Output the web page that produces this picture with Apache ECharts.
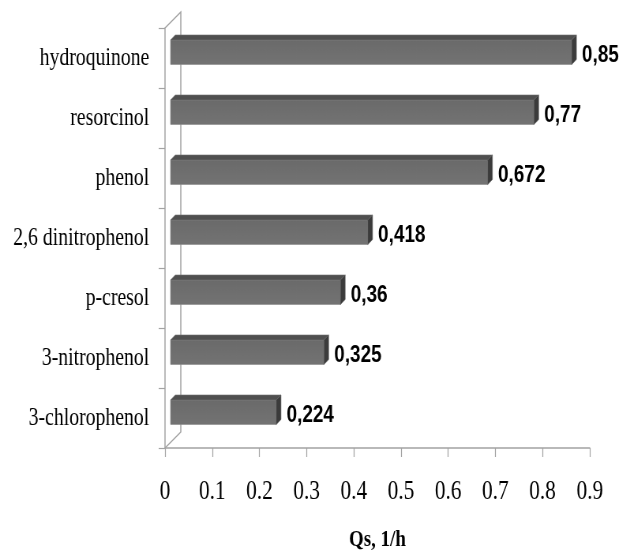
<!DOCTYPE html>
<html>
<head>
<meta charset="utf-8">
<script src="https://cdn.jsdelivr.net/npm/echarts@6/dist/echarts.min.js"></script>
<style>
  html, body { margin: 0; padding: 0; background: #fff; overflow: hidden; }
  /* the original picture is squeezed sideways, so draw wider and squeeze */
  #chart {
    width: 784px;
    height: 558px;
    transform: scaleX(0.7895);
    transform-origin: 0 0;
  }
</style>
</head>
<body>
<div id="chart"></div>
<script>
  const compounds = [
    "hydroquinone",
    "resorcinol",
    "phenol",
    "2,6 dinitrophenol",
    "p-cresol",
    "3-nitrophenol",
    "3-chlorophenol",
  ];
  const qsValues = [0.85, 0.77, 0.672, 0.418, 0.36, 0.325, 0.224];
  const xTicks = [0, 0.1, 0.2, 0.3, 0.4, 0.5, 0.6, 0.7, 0.8, 0.9];

  const gridLeft = 209;
  const gridTop = 28;
  const gridBottom = 110;
  const wallDx = 20; // depth of the 3d wall
  const wallDy = 16;
  const axisGray = "#a3a3a3";

  const chart = echarts.init(document.getElementById("chart"));
  const plotBottom = 558 - gridBottom;

  // one 3d-looking bar: front face, top face, right side and its label
  function renderBar(params, api) {
    const v = api.value(0);
    const p = api.coord([v, api.value(1)]);
    const p0 = api.coord([0, api.value(1)]);
    const band = api.size([0, 1])[1];
    const off = 7;
    const d = 6;
    const dy = 5;
    const x0 = p0[0] + off;
    const x1 = p[0] + off;
    const yTop = p[1] - band * 0.3;
    const yBot = p[1] + band * 0.108;
    return {
      type: "group",
      children: [
        {
          type: "rect",
          shape: { x: x0, y: yTop, width: x1 - x0, height: yBot - yTop },
          style: {
            fill: new echarts.graphic.LinearGradient(0, 0, 0, 1, [
              { offset: 0, color: "#6a6a6a" },
              { offset: 1, color: "#737373" },
            ]),
            stroke: "#8a8a8a",
            lineWidth: 0.6,
          },
        },
        {
          type: "polygon",
          shape: {
            points: [
              [x0, yTop],
              [x0 + d, yTop - dy],
              [x1 + d, yTop - dy],
              [x1, yTop],
            ],
          },
          style: { fill: "#4f4f4f", stroke: "#6e6e6e", lineWidth: 0.6 },
        },
        {
          type: "polygon",
          shape: {
            points: [
              [x1, yTop],
              [x1 + d, yTop - dy],
              [x1 + d, yBot - dy],
              [x1, yBot],
            ],
          },
          style: { fill: "#3b3b3b", stroke: "#5a5a5a", lineWidth: 0.6 },
        },
        {
          type: "text",
          x: x1 + d + 7,
          y: p[1] - 3,
          style: {
            text: String(v).replace(".", ","),
            font: "bold 24px 'Liberation Sans', Arial, sans-serif",
            fill: "#000",
            align: "left",
            verticalAlign: "middle",
          },
        },
      ],
    };
  }

  const option = {
    backgroundColor: "#fff",
    animation: false,
    grid: {
      left: gridLeft,
      right: 37,
      top: gridTop,
      bottom: gridBottom,
    },
    xAxis: {
      type: "value",
      min: xTicks[0],
      max: xTicks[xTicks.length - 1],
      interval: 0.1,
      name: "Qs, 1/h",
      nameLocation: "middle",
      nameGap: 80,
      nameTextStyle: {
        fontFamily: "'Liberation Serif', 'Times New Roman', serif",
        fontWeight: "bold",
        fontSize: 24,
        color: "#000",
      },
      axisLine: { show: true, lineStyle: { color: axisGray, width: 1.5 } },
      axisTick: { show: true, length: 9, lineStyle: { color: axisGray, width: 1.2 } },
      splitLine: { show: false },
      axisLabel: {
        margin: 30,
        fontFamily: "'Liberation Serif', 'Times New Roman', serif",
        fontSize: 27,
        color: "#000",
        formatter: (val) => (val === 0 ? "0" : val.toFixed(1)),
      },
    },
    yAxis: {
      type: "category",
      data: compounds,
      inverse: true,
      axisLine: { show: true, lineStyle: { color: axisGray, width: 1.5 } },
      axisTick: { show: true, length: 8, lineStyle: { color: axisGray, width: 1.2 } },
      splitLine: { show: false },
      axisLabel: {
        margin: 20,
        fontFamily: "'Liberation Serif', 'Times New Roman', serif",
        fontSize: 25,
        color: "#000",
      },
    },
    // back wall of the 3d frame
    graphic: {
      elements: [
        {
          type: "polyline",
          z: 0,
          silent: true,
          shape: {
            points: [
              [gridLeft, gridTop],
              [gridLeft + wallDx, gridTop - wallDy],
              [gridLeft + wallDx, plotBottom - wallDy],
              [gridLeft, plotBottom],
            ],
          },
          style: { stroke: axisGray, lineWidth: 1.5, fill: null },
        },
      ],
    },
    series: [
      {
        type: "custom",
        z: 5,
        renderItem: renderBar,
        encode: { x: 0, y: 1 },
        data: qsValues.map((v, i) => [v, i]),
      },
    ],
  };

  chart.setOption(option);
</script>
</body>
</html>
